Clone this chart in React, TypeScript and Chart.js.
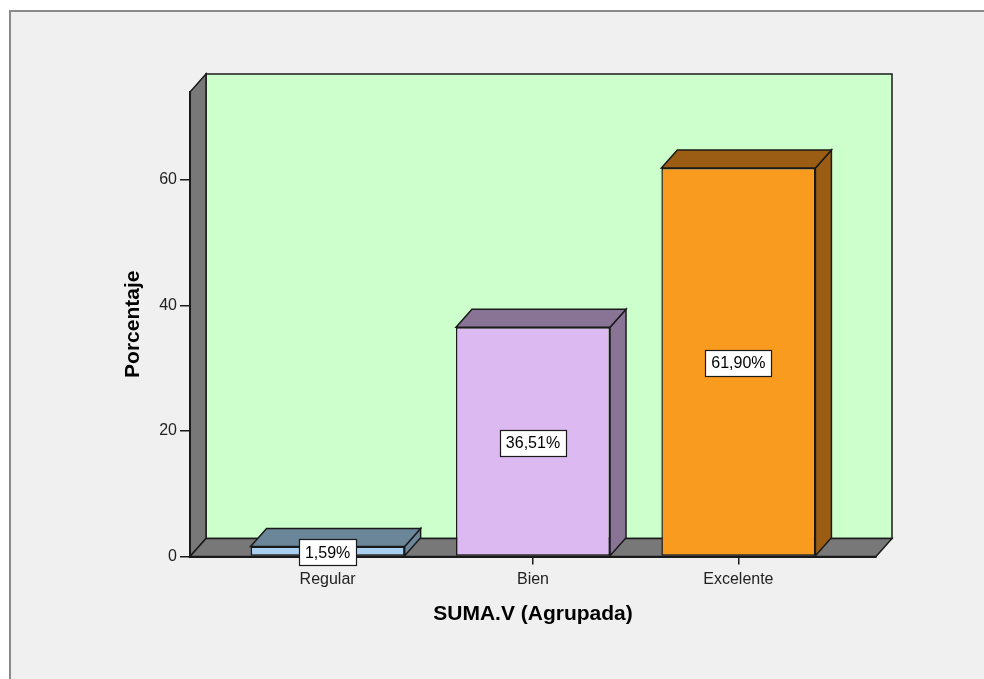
import { useEffect, useRef } from 'react';
import { Chart, registerables } from 'chart.js';

Chart.register(...registerables);

// ---- data ----
const categories = ['Regular', 'Bien', 'Excelente'];
const percentages = [1.59, 36.51, 61.9];
const valueLabels = ['1,59%', '36,51%', '61,90%'];
const yTickValues = [0, 20, 40, 60];
const yMax = 74;

// ---- styles ----
const frontColors = ['#a9d0f0', '#ddb9f2', '#f99b1f'];
const shadeColors = ['#6b8599', '#8a7496', '#9a5d13'];
const FONT = "'Liberation Sans', Arial, sans-serif";
const INK = '#1a1a1a';
const DX = 16;
const DY = 18;

function poly(ctx: CanvasRenderingContext2D, pts: number[][], fill: string) {
  ctx.beginPath();
  ctx.moveTo(pts[0][0], pts[0][1]);
  for (let i = 1; i < pts.length; i++) ctx.lineTo(pts[i][0], pts[i][1]);
  ctx.closePath();
  ctx.fillStyle = fill;
  ctx.fill();
  ctx.strokeStyle = INK;
  ctx.lineWidth = 1.5;
  ctx.lineJoin = 'miter';
  ctx.stroke();
}

const scenePlugin = {
  id: 'scene3d',
  beforeDraw(chart: any) {
    const { ctx, chartArea: a, width, height } = chart;
    ctx.save();
    ctx.fillStyle = '#ffffff';
    ctx.fillRect(0, 0, width, height);
    ctx.fillStyle = '#f0f0f0';
    ctx.fillRect(10, 11, width, height);
    ctx.strokeStyle = '#8a8a8a';
    ctx.lineWidth = 2;
    ctx.beginPath();
    ctx.moveTo(10, height + 5);
    ctx.lineTo(10, 11);
    ctx.lineTo(width + 5, 11);
    ctx.stroke();

    const L = a.left, R = a.right, T = a.top, B = a.bottom;
    // back wall
    poly(ctx, [[L + DX, T - DY], [R + DX, T - DY], [R + DX, B - DY], [L + DX, B - DY]], '#ccffcc');
    // left wall
    poly(ctx, [[L, B], [L, T], [L + DX, T - DY], [L + DX, B - DY]], '#787878');
    // floor
    poly(ctx, [[L, B], [L + DX, B - DY], [R + DX, B - DY], [R, B]], '#787878');
    ctx.restore();
  },
  afterDatasetsDraw(chart: any) {
    const { ctx } = chart;
    const meta = chart.getDatasetMeta(0);
    ctx.save();
    meta.data.forEach((bar: any, i: number) => {
      const { x, y, base, width } = bar.getProps(['x', 'y', 'base', 'width'], true);
      const l = x - width / 2;
      const r = x + width / 2;
      // side face
      poly(ctx, [[r, y], [r + DX, y - DY], [r + DX, base - DY], [r, base]], shadeColors[i]);
      // top face
      poly(ctx, [[l, y], [l + DX, y - DY], [r + DX, y - DY], [r, y]], shadeColors[i]);
    });
    // value labels
    ctx.font = `16px ${FONT}`;
    ctx.textAlign = 'center';
    ctx.textBaseline = 'middle';
    meta.data.forEach((bar: any, i: number) => {
      const { x, y, base } = bar.getProps(['x', 'y', 'base'], true);
      const cy = (y + base) / 2 + 1;
      const txt = valueLabels[i];
      const w = ctx.measureText(txt).width + 12;
      const h = 26;
      ctx.fillStyle = '#ffffff';
      ctx.fillRect(Math.round(x - w / 2) + 0.5, Math.round(cy - h / 2) + 0.5, Math.round(w), h);
      ctx.strokeStyle = INK;
      ctx.lineWidth = 1.2;
      ctx.strokeRect(Math.round(x - w / 2) + 0.5, Math.round(cy - h / 2) + 0.5, Math.round(w), h);
      ctx.fillStyle = '#000000';
      ctx.fillText(txt, x, cy + 1);
    });
    ctx.restore();
  },
};

export default function App() {
  const ref = useRef<HTMLCanvasElement | null>(null);

  useEffect(() => {
    if (!ref.current) return;
    const chart = new Chart(ref.current, {
      type: 'bar',
      data: {
        datasets: [
          {
            data: categories.map((_, i) => ({ x: i, y: percentages[i] })),
            backgroundColor: frontColors,
            borderColor: INK,
            borderWidth: 1.5,
            borderSkipped: false,
            barPercentage: 0.75,
            categoryPercentage: 1,
          },
        ],
      },
      options: {
        animation: false,
        responsive: false,
        devicePixelRatio: 1,
        events: [],
        layout: { padding: { left: 0, top: 92, right: 108, bottom: 0 } },
        plugins: {
          legend: { display: false },
          tooltip: { enabled: false },
        },
        scales: {
          x: {
            type: 'linear',
            offset: false,
            min: -0.67,
            max: 2.67,
            afterBuildTicks(scale: any) {
              scale.ticks = categories.map((_, i) => ({ value: i }));
            },
            afterFit(scale: any) {
              scale.height = 679 - 556.5;
            },
            ticks: {
              callback: (v: any) => categories[v] ?? '',
              color: '#222222',
              font: { family: FONT, size: 16 },
              padding: 5,
              autoSkip: false,
              maxRotation: 0,
            },
            grid: { offset: false, drawOnChartArea: false, tickLength: 8, color: INK, lineWidth: 1.5 },
            border: { color: INK, width: 2 },
            title: {
              display: true,
              text: 'SUMA.V (Agrupada)',
              color: '#000000',
              font: { family: FONT, size: 21, weight: 'bold' },
              padding: { top: 0, bottom: 52 },
            },
          },
          y: {
            min: 0,
            max: yMax,
            afterBuildTicks(scale: any) {
              scale.ticks = yTickValues.map((v) => ({ value: v }));
            },
            afterFit(scale: any) {
              scale.width = 190;
            },
            ticks: {
              color: '#222222',
              font: { family: FONT, size: 16 },
              padding: 3,
            },
            grid: { drawOnChartArea: false, tickLength: 10, color: INK, lineWidth: 1.5 },
            border: { color: INK, width: 2 },
            title: {
              display: true,
              text: 'Porcentaje',
              color: '#000000',
              font: { family: FONT, size: 21, weight: 'bold' },
              padding: { top: 121, bottom: 0 },
            },
          },
        },
      },
      plugins: [scenePlugin],
    } as any);
    return () => chart.destroy();
  }, []);

  return (
    <div style={{ position: 'absolute', left: 0, top: 0, width: 984, height: 679 }}>
      <canvas ref={ref} width={984} height={679} style={{ display: 'block' }} />
    </div>
  );
}
